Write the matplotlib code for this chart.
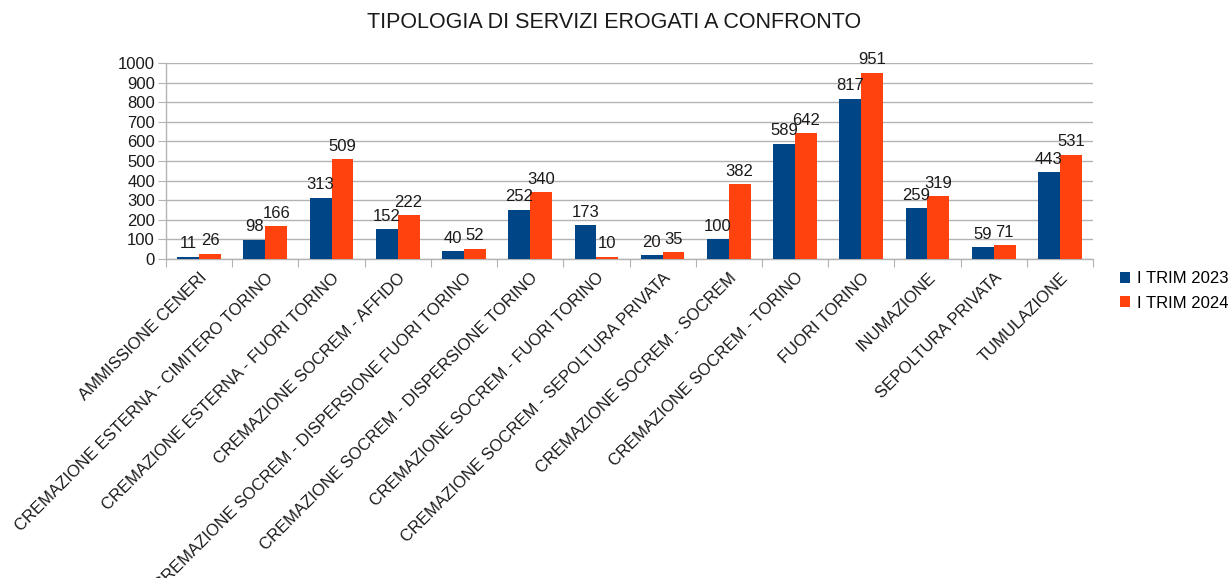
import matplotlib
matplotlib.use("Agg")
import matplotlib.pyplot as plt
import numpy as np

categories = [
    "AMMISSIONE CENERI",
    "CREMAZIONE ESTERNA - CIMITERO TORINO",
    "CREMAZIONE ESTERNA - FUORI TORINO",
    "CREMAZIONE SOCREM - AFFIDO",
    "CREMAZIONE SOCREM - DISPERSIONE FUORI TORINO",
    "CREMAZIONE SOCREM - DISPERSIONE TORINO",
    "CREMAZIONE SOCREM - FUORI TORINO",
    "CREMAZIONE SOCREM - SEPOLTURA PRIVATA",
    "CREMAZIONE SOCREM - SOCREM",
    "CREMAZIONE SOCREM - TORINO",
    "FUORI TORINO",
    "INUMAZIONE",
    "SEPOLTURA PRIVATA",
    "TUMULAZIONE",
]
trim_2023 = [11, 98, 313, 152, 40, 252, 173, 20, 100, 589, 817, 259, 59, 443]
trim_2024 = [26, 166, 509, 222, 52, 340, 10, 35, 382, 642, 951, 319, 71, 531]
series_names = ["I TRIM 2023", "I TRIM 2024"]
yticks = list(range(0, 1001, 100))

plt.rcParams['font.family'] = ['Liberation Sans', 'DejaVu Sans']

fig = plt.figure(figsize=(12.29, 5.78), dpi=100)
ax = fig.add_axes([166/1229, 1-259/578, (1093-166)/1229, (259-63)/578])

x = np.arange(len(categories))
w = 0.33
c1, c2 = "#004586", "#ff420e"
b1 = ax.bar(x - w/2, trim_2023, w, color=c1, label=series_names[0], zorder=3)
b2 = ax.bar(x + w/2, trim_2024, w, color=c2, label=series_names[1], zorder=3)
for bars, vals in ((b1, trim_2023), (b2, trim_2024)):
    for r, v in zip(bars, vals):
        ax.annotate(str(v), (r.get_x() + r.get_width()/2, v), xytext=(0, 4),
                    textcoords='offset points', ha='center', va='bottom',
                    fontsize=12, color='#1a1a1a', zorder=4)

ax.set_xlim(-0.5, len(categories) - 0.5)
ax.set_ylim(0, 1000)
ax.set_yticks(yticks)
ax.set_yticklabels([str(t) for t in yticks], fontsize=12, color='#1a1a1a')
ax.yaxis.grid(True, color='#b3b3b3', linewidth=1, zorder=0)
ax.tick_params(axis='y', length=6, color='#b3b3b3', pad=2)

ax.set_xticks(np.arange(-0.5, len(categories), 1.0))
ax.set_xticklabels([])
ax.tick_params(axis='x', which='major', length=6, color='#b3b3b3', direction='out')
ax.set_xticks(x, minor=True)
ax.set_xticklabels(categories, minor=True, rotation=45, ha='right', rotation_mode='anchor',
                   fontsize=12, color='#1a1a1a')
ax.tick_params(axis='x', which='minor', length=0, pad=8)

for s in ('top', 'right'):
    ax.spines[s].set_visible(False)
for s in ('left', 'bottom'):
    ax.spines[s].set_color('#b3b3b3')
    ax.spines[s].set_linewidth(1)

fig.text(0.5, 1-23/578, "TIPOLOGIA DI SERVIZI EROGATI A CONFRONTO", ha='center', va='center',
         fontsize=15.5, color='#1a1a1a')

fig.legend(handles=[b1, b2], labels=series_names, loc='center left',
           bbox_to_anchor=(1120/1229, 1-291/578), frameon=False, fontsize=12,
           handlelength=0.6, handleheight=0.6, handletextpad=0.4, labelspacing=0.55,
           borderaxespad=0, borderpad=0)

fig.savefig("out.png", dpi=100)
